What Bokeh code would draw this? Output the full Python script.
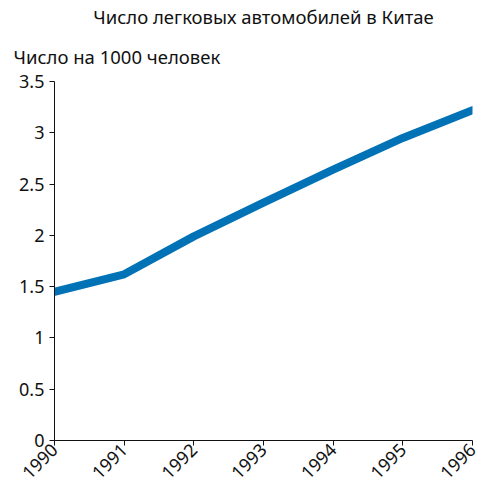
import math
from bokeh.plotting import figure
from bokeh.models import Range1d, FixedTicker, Title
from bokeh.embed import file_html
from bokeh.resources import INLINE

years = [1990, 1991, 1992, 1993, 1994, 1995, 1996]
cars_per_1000 = [1.45, 1.62, 1.99, 2.32, 2.64, 2.95, 3.22]
y_ticks = [0, 0.5, 1, 1.5, 2, 2.5, 3, 3.5]

FONT = "Noto Sans"

p = figure(frame_width=418, frame_height=359, output_backend="svg", toolbar_location=None,
           x_range=Range1d(1990, 1996), y_range=Range1d(0, 3.5),
           min_border_left=54, min_border_right=11, min_border_bottom=0, min_border_top=0)
p.outline_line_color = None
p.xgrid.grid_line_color = None
p.ygrid.grid_line_color = None

p.line(years, cars_per_1000, line_width=8, line_color="#0072b5", line_cap="round")

ylab = Title(text="Число на 1000 человек", align="left", offset=-41,
             text_font=FONT, text_font_size="18.5px", text_font_style="normal",
             text_color="#111111", standoff=25)
p.add_layout(ylab, "above")
tt = Title(text="Число легковых автомобилей в Китае", align="center",
           text_font=FONT, text_font_size="18.5px", text_font_style="normal",
           text_color="#111111", standoff=2)
p.add_layout(tt, "above")

for ax in (p.xaxis[0], p.yaxis[0]):
    ax.axis_line_color = "#111111"
    ax.major_tick_line_color = "#111111"
    ax.major_tick_in = 0
    ax.major_tick_out = 5
    ax.minor_tick_line_color = None
    ax.major_label_text_font = FONT
    ax.major_label_text_font_size = "18px"
    ax.major_label_text_color = "#111111"

p.xaxis.ticker = FixedTicker(ticks=years)
p.yaxis.ticker = FixedTicker(ticks=y_ticks)
p.xaxis.major_label_orientation = math.pi / 4
p.xaxis.major_label_standoff = 1

open("out.html", "w").write(file_html(p, INLINE))
